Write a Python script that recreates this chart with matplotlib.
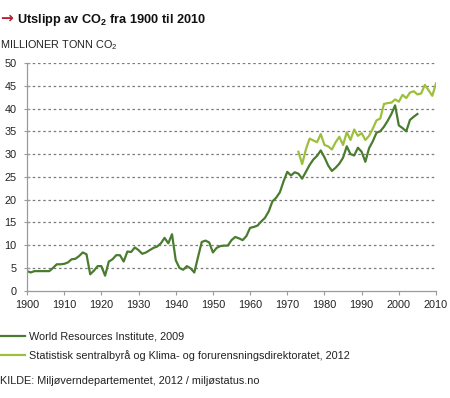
import matplotlib
matplotlib.use("Agg")
from matplotlib import pyplot as plt

plt.rcParams['font.family'] = ['Liberation Sans', 'DejaVu Sans']
plt.rcParams['mathtext.fontset'] = 'custom'
plt.rcParams['mathtext.rm'] = 'Liberation Sans'
plt.rcParams['mathtext.bf'] = 'Liberation Sans:bold'

# World Resources Institute, 2009 (millioner tonn CO2)
wri_years = list(range(1900, 2006))
wri_values = [
    4.3, 4.0, 4.3, 4.3, 4.3, 4.3, 4.3, 5.0, 5.8, 5.8,      # 1900-1909
    5.9, 6.2, 6.9, 7.0, 7.6, 8.4, 8.0, 3.6, 4.4, 5.4,      # 1910-1919
    5.4, 3.3, 6.4, 6.9, 7.8, 7.8, 6.4, 8.6, 8.5, 9.5,      # 1920-1929
    8.9, 8.1, 8.4, 8.9, 9.4, 9.7, 10.4, 11.6, 10.4, 12.4,  # 1930-1939
    6.7, 5.0, 4.6, 5.4, 4.9, 4.0, 7.4, 10.7, 11.0, 10.6,   # 1940-1949
    8.4, 9.4, 9.8, 9.9, 9.9, 11.1, 11.8, 11.5, 11.1, 12.0,  # 1950-1959
    13.8, 14.0, 14.3, 15.2, 16.0, 17.4, 19.6, 20.4, 21.6, 24.0,  # 1960-1969
    26.1, 25.3, 26.0, 25.7, 24.6, 26.1, 27.6, 28.8, 29.6, 30.8,  # 1970-1979
    29.3, 27.5, 26.3, 27.0, 27.9, 29.2, 31.7, 30.0, 29.7, 31.4,  # 1980-1989
    30.5, 28.3, 31.3, 32.8, 34.7, 35.0, 36.0, 37.3, 38.8, 40.7,  # 1990-1999
    36.3, 35.7, 35.0, 37.5, 38.2, 38.8,                          # 2000-2005
]

# Statistisk sentralbyraa og Klima- og forurensningsdirektoratet, 2012
ssb_years = list(range(1973, 2011))
ssb_values = [
    30.5, 27.8, 31.0, 33.4, 33.0, 32.6, 34.4,              # 1973-1979
    32.0, 31.7, 31.0, 32.6, 33.8, 32.0, 34.8, 33.1, 35.4, 34.0,  # 1980-1989
    34.6, 33.1, 34.0, 35.6, 37.4, 37.8, 41.0, 41.2, 41.3, 42.0,  # 1990-1999
    41.5, 43.0, 42.3, 43.5, 43.8, 43.1, 43.3, 45.2, 44.0, 42.8,  # 2000-2009
    45.5,                                                    # 2010
]

x_ticks = list(range(1900, 2011, 10))
y_ticks = list(range(0, 51, 5))

dark_green = '#4a7c2f'
light_green = '#9dbf3c'
axis_grey = '#9a9a9a'
txt = '#222222'
fs = 7.8

fig = plt.figure(figsize=(4.5, 3.98), dpi=100)
ax = fig.add_axes([0.06, 0.2696, 0.9089, 0.5721])

ax.plot(wri_years, wri_values, color=dark_green, linewidth=1.6,
        label='World Resources Institute, 2009')
ax.plot(ssb_years, ssb_values, color=light_green, linewidth=1.6,
        label='Statistisk sentralbyrå og Klima- og forurensningsdirektoratet, 2012')

ax.set_xlim(1900, 2010)
ax.set_ylim(0, 50)
ax.set_xticks(x_ticks)
ax.set_yticks(y_ticks)
for y in y_ticks[1:]:
    ax.axhline(y, color='#7a7a7a', linewidth=0.9, linestyle=(0, (2, 2.2)),
               zorder=0)

for s in ['top', 'right']:
    ax.spines[s].set_visible(False)
for s in ['left', 'bottom']:
    ax.spines[s].set_color(axis_grey)
    ax.spines[s].set_linewidth(0.9)
ax.tick_params(axis='x', direction='out', length=3, color=axis_grey,
               labelsize=fs, pad=4, labelcolor=txt)
ax.tick_params(axis='y', direction='inout', length=5, color=axis_grey,
               labelsize=fs, pad=5, labelcolor=txt)

fig.text(0.0, 0.943, '\u2192', color='#b0202e', fontsize=11,
         fontweight='bold', va='baseline', ha='left',
         family=['DejaVu Sans'])
fig.text(0.038, 0.943, r'Utslipp av CO$_\mathbf{2}$ fra 1900 til 2010',
         fontsize=9.2, fontweight='bold', va='baseline', ha='left',
         color='#111111')
fig.text(0.0, 0.88, r'MILLIONER TONN CO$_2$', fontsize=fs, va='baseline',
         ha='left', color=txt)

leg = ax.legend(loc='upper left', bbox_to_anchor=(0.0, 0.167),
                bbox_transform=fig.transFigure, frameon=False, fontsize=fs,
                handlelength=2.3, handletextpad=0.35, labelspacing=0.75,
                borderpad=0, borderaxespad=0)
for t in leg.get_texts():
    t.set_color(txt)

fig.text(0.0, 0.035, 'KILDE: Miljøverndepartementet, 2012 / miljøstatus.no',
         fontsize=fs, va='baseline', ha='left', color=txt)

fig.savefig('out.png', dpi=100)
